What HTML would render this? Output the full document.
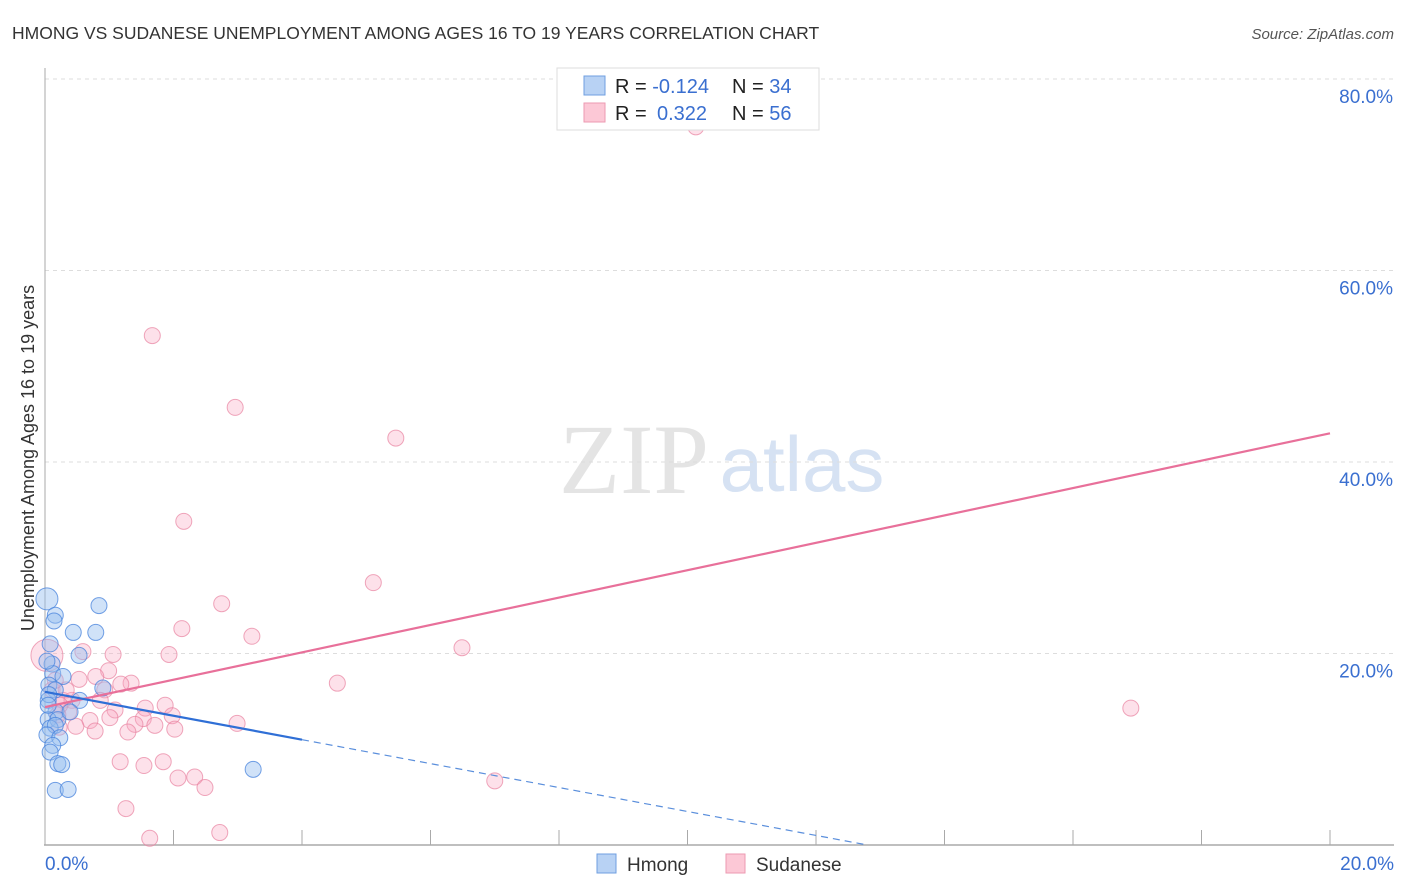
<!DOCTYPE html>
<html><head><meta charset="utf-8"><style>
body{margin:0;background:#fff;font-family:"Liberation Sans",sans-serif;}
svg{display:block}
</style></head><body>
<svg id="chart" width="1406" height="892">
<text x="12" y="39" font-size="17.5" fill="#333">HMONG VS SUDANESE UNEMPLOYMENT AMONG AGES 16 TO 19 YEARS CORRELATION CHART</text>
<text x="1394" y="39" font-size="15" fill="#555" font-style="italic" text-anchor="end">Source: ZipAtlas.com</text>
<text x="634" y="493" font-size="100" fill="#e4e4e4" font-family="Liberation Serif,serif" text-anchor="middle">ZIP</text>
<text x="802" y="491" font-size="78" fill="#d6e2f3" text-anchor="middle">atlas</text>
<text transform="translate(34,458) rotate(-90)" font-size="18" fill="#333" text-anchor="middle">Unemployment Among Ages 16 to 19 years</text>
<g id="grid"></g><g id="marks"></g>
<g>
<rect x="557" y="68" width="262" height="62" fill="#fff" stroke="#ddd"/>
<rect x="584" y="76" width="21" height="19" fill="#b8d2f4" stroke="#6f9fe0"/>
<rect x="584" y="103" width="21" height="19" fill="#fcc8d6" stroke="#ec9ab2"/>
<text x="615" y="93" font-size="20" fill="#222">R = <tspan fill="#3a6fd0">-0.124</tspan></text>
<text x="732" y="93" font-size="20" fill="#222">N = <tspan fill="#3a6fd0">34</tspan></text>
<text x="615" y="120" font-size="20" fill="#222">R = <tspan fill="#3a6fd0" x="657">0.322</tspan></text>
<text x="732" y="120" font-size="20" fill="#222">N = <tspan fill="#3a6fd0">56</tspan></text>
</g>
<g>
<rect x="597" y="854" width="19" height="19" fill="#b8d2f4" stroke="#6f9fe0"/>
<text x="627" y="871" font-size="19" fill="#333">Hmong</text>
<rect x="726" y="854" width="19" height="19" fill="#fcc8d6" stroke="#ec9ab2"/>
<text x="756" y="871" font-size="19" fill="#333">Sudanese</text>
</g>
</svg>
<script>
const yTicks=[20,40,60,80];
const yTickLabels=["20.0%","40.0%","60.0%","80.0%"];
const xTicks=[0,2,4,6,8,10,12,14,16,18,20];
const hmongX=[0.03,0.16,0.14,0.84,0.44,0.79,0.08,0.11,0.53,0.12,0.28,0.06,0.16,0.54,0.90,0.05,0.17,0.05,0.20,0.08,0.16,0.03,0.23,0.12,0.08,0.20,0.26,0.16,0.36,3.24,0.06,0.03,0.05,0.39];
const hmongY=[25.7,24.0,23.4,25.0,22.2,22.2,21.0,18.9,19.8,17.9,17.6,16.7,16.2,15.1,16.4,15.1,13.9,13.1,13.1,12.2,12.5,11.5,11.2,10.4,9.7,8.5,8.4,5.7,5.8,7.9,15.7,19.2,14.6,13.9];
const sudX=[0.03,1.67,2.96,5.46,2.16,5.11,2.75,2.13,3.22,6.49,1.06,0.59,1.93,4.55,16.90,0.99,0.79,1.34,1.18,0.53,0.93,0.11,0.28,0.42,0.86,1.09,1.56,1.87,1.53,1.98,0.37,0.70,1.40,0.78,0.48,1.29,1.71,2.02,2.99,0.20,0.22,7.00,1.17,1.54,1.84,2.07,2.33,2.49,1.26,1.63,2.72,10.13,0.23,0.33,0.16,1.01];
const sudY=[19.8,53.2,45.7,42.5,33.8,27.4,25.2,22.6,21.8,20.6,19.9,20.2,19.9,16.9,14.3,18.2,17.6,16.9,16.8,17.3,16.2,16.2,15.1,15.1,15.1,14.1,14.3,14.6,13.2,13.5,13.9,13.0,12.6,11.9,12.4,11.8,12.5,12.1,12.7,13.6,12.3,6.7,8.7,8.3,8.7,7.0,7.1,6.0,3.8,0.7,1.3,75.0,14.6,16.2,17.2,13.3];
const blueFit=[16.0,-1.25]; // intercept, slope
const pinkFit=[14.4,1.43];
const X=v=>45+v*64.25, Y=v=>845-v*9.575;
const ns="http://www.w3.org/2000/svg";
function mk(tag,attrs,parent){const e=document.createElementNS(ns,tag);for(const k in attrs)e.setAttribute(k,attrs[k]);parent.appendChild(e);return e;}
const grid=document.getElementById('grid'), marks=document.getElementById('marks');
yTicks.forEach((t,i)=>{
 const l=mk('line',{x1:45,x2:1394,y1:Y(t),y2:Y(t),stroke:'#ddd','stroke-dasharray':'4,4'},grid);
 
 
 const tx=mk('text',{x:1393,y:Y(t)+24,'font-size':19,fill:'#3a6fd0','text-anchor':'end'},grid);
 tx.textContent=yTickLabels[i];
 
 
});
const ax=mk('line',{x1:45,x2:45,y1:68,y2:845,stroke:'#aaa'},grid);


const bx=mk('line',{x1:44,x2:1394,y1:845,y2:845,stroke:'#aaa','stroke-width':1.5},grid);


xTicks.forEach(t=>{const l=mk('line',{x1:X(t),x2:X(t),y1:830,y2:845,stroke:'#aaa'},grid);
 
 });
const x0=mk('text',{x:45,y:870,'font-size':19,fill:'#3a6fd0'},grid);x0.textContent='0.0%';


const x1=mk('text',{x:1394,y:870,'font-size':19,fill:'#3a6fd0','text-anchor':'end'},grid);x1.textContent='20.0%';


sudX.forEach((x,i)=>{const c=mk('circle',{cx:X(x),cy:Y(sudY[i]),r:i==0?16:8,fill:'rgba(248,170,195,0.35)',stroke:'rgba(232,130,160,0.7)','stroke-width':1},marks);
 
 });
hmongX.forEach((x,i)=>{const c=mk('circle',{cx:X(x),cy:Y(hmongY[i]),r:i==0?11:8,fill:'rgba(150,190,240,0.45)',stroke:'rgba(70,130,220,0.75)','stroke-width':1},marks);
 
 });
const pl=mk('line',{x1:X(0),y1:Y(pinkFit[0]),x2:X(20),y2:Y(pinkFit[0]+pinkFit[1]*20),stroke:'#e8709a','stroke-width':2.2},marks);


const bl=mk('line',{x1:X(0),y1:Y(blueFit[0]),x2:X(4),y2:Y(blueFit[0]+blueFit[1]*4),stroke:'#2f6fd6','stroke-width':2.2},marks);


const xe=-blueFit[0]/blueFit[1];
const bd=mk('line',{x1:X(4),y1:Y(blueFit[0]+blueFit[1]*4),x2:X(xe),y2:Y(0),stroke:'#5b8fdc','stroke-width':1.2,'stroke-dasharray':'7,5'},marks);


</script>
</body></html>
